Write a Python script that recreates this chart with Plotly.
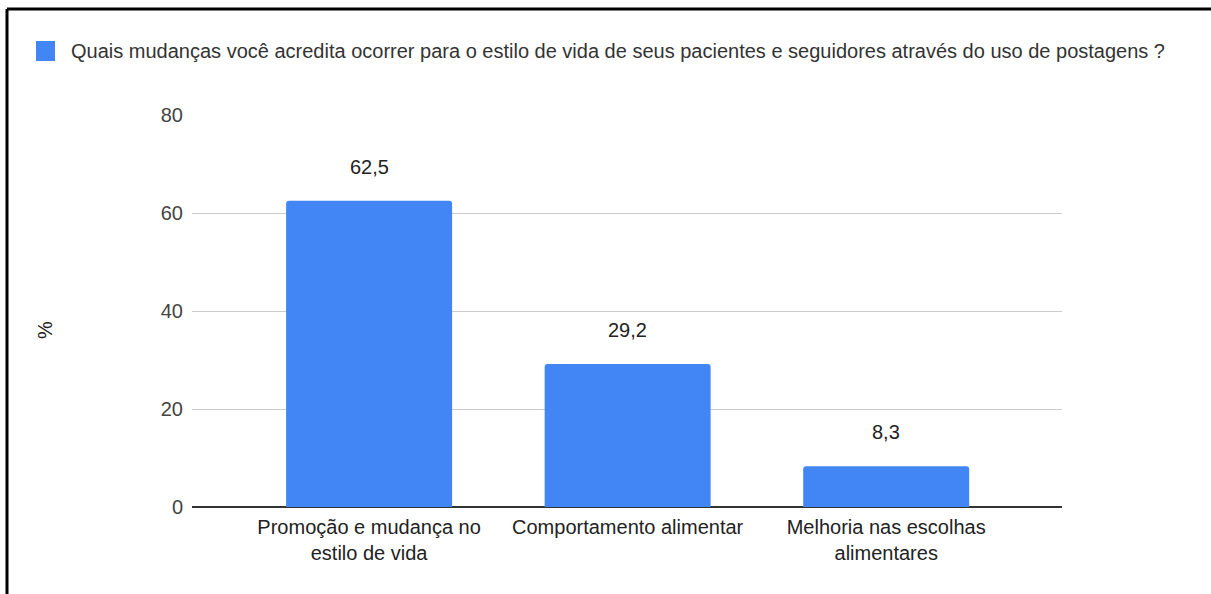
import plotly.graph_objects as go

# Survey responses (%)
categories = [
    "Promoção e mudança no<br>estilo de vida",
    "Comportamento alimentar",
    "Melhoria nas escolhas<br>alimentares",
]
values = [62.5, 29.2, 8.3]
y_ticks = [0, 20, 40, 60, 80]
series_name = ("Quais mudanças você acredita ocorrer para o estilo de vida de seus "
               "pacientes e seguidores através do uso de postagens ?")

W, H = 1211, 594
L, R, T, B = 192, 149, 115, 87
PW, PH = W - L - R, H - T - B

BLUE = "#4285F4"
FONT = "Arial, Liberation Sans, sans-serif"
FS = 20


def px_x(px):
    return (px - L) / PW


def px_y(py):
    return (H - B - py) / PH


fig = go.Figure()
fig.add_trace(go.Bar(
    x=list(range(len(categories))),
    y=values,
    marker=dict(color=BLUE, line=dict(width=0)),
    name=series_name,
    showlegend=False,
    hoverinfo="skip",
))

annotations = []
for i, v in enumerate(values):
    annotations.append(dict(
        x=i, y=v, xref="x", yref="y",
        text=f"{v:.1f}".replace(".", ","),
        showarrow=False, yshift=34,
        font=dict(family=FONT, size=FS, color="#222222"),
    ))

# y-axis title
annotations.append(dict(
    x=px_x(45), y=px_y(330), xref="paper", yref="paper",
    xanchor="center", yanchor="middle",
    text="%", textangle=-90, showarrow=False,
    font=dict(family=FONT, size=FS, color="#222222"),
))

# legend entry
annotations.append(dict(
    x=px_x(69), y=px_y(51), xref="paper", yref="paper",
    xanchor="left", yanchor="middle",
    text=series_name, showarrow=False,
    font=dict(family=FONT, size=FS, color="#333333"),
))

shapes = [
    # legend swatch
    dict(type="rect", xref="paper", yref="paper",
         x0=px_x(36), x1=px_x(55), y0=px_y(61), y1=px_y(41),
         fillcolor=BLUE, line=dict(width=0)),
    # frame
    dict(type="line", xref="paper", yref="paper",
         x0=px_x(7), x1=px_x(W + 2), y0=px_y(9), y1=px_y(9),
         line=dict(color="black", width=3)),
    dict(type="line", xref="paper", yref="paper",
         x0=px_x(7), x1=px_x(7), y0=px_y(9), y1=px_y(H + 2),
         line=dict(color="black", width=3)),
]

fig.update_layout(
    width=W, height=H,
    margin=dict(l=L, r=R, t=T, b=B, autoexpand=False),
    paper_bgcolor="white", plot_bgcolor="white",
    bargap=0.358,
    barcornerradius=3,
    font=dict(family=FONT, size=FS, color="#444444"),
    annotations=annotations,
    shapes=shapes,
    showlegend=False,
)
fig.update_xaxes(
    range=[-0.685, 2.68],
    tickmode="array",
    tickvals=list(range(len(categories))),
    ticktext=categories,
    showgrid=False, showline=False, zeroline=False,
    ticks="",
    ticklabelstandoff=6,
    tickfont=dict(family=FONT, size=FS, color="#222222"),
)
fig.update_yaxes(
    range=[0, 80],
    tickvals=y_ticks,
    showgrid=True, gridcolor="#cccccc", gridwidth=1,
    zeroline=True, zerolinecolor="#333333", zerolinewidth=2,
    showline=False, ticks="",
    ticklabelstandoff=8,
    tickfont=dict(family=FONT, size=FS, color="#444444"),
)

fig.write_html("out.html")
